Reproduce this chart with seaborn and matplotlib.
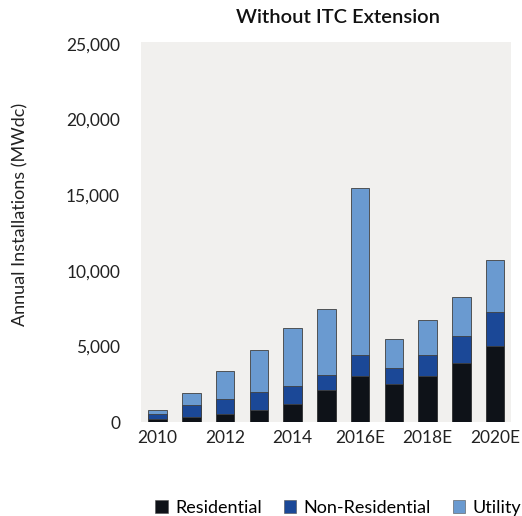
import matplotlib.pyplot as plt
import matplotlib.ticker as mticker
from matplotlib.patches import Patch
import numpy as np
import pandas as pd
import seaborn as sns

# Annual installations (MWdc)
years = ['2010', '2011', '2012', '2013', '2014', '2015',
         '2016E', '2017E', '2018E', '2019E', '2020E']
residential = [220, 330, 510, 815, 1210, 2140, 3020, 2535, 3020, 3900, 5000]
non_residential = [290, 815, 1035, 1170, 1150, 950, 1390, 1060, 1390, 1765, 2275]
utility = [260, 770, 1830, 2800, 3875, 4360, 11070, 1920, 2310, 2600, 3460]

series = ['Residential', 'Non-Residential', 'Utility']
colors = ['#0e1218', '#1b4897', '#6a9ad0']

df = pd.DataFrame({'year': years, 'Residential': residential,
                   'Non-Residential': non_residential, 'Utility': utility})
# cumulative tops so the bars can be layered
df['top_res'] = df['Residential']
df['top_nonres'] = df['top_res'] + df['Non-Residential']
df['top_util'] = df['top_nonres'] + df['Utility']

plt.rcParams['font.family'] = ['Lato', 'DejaVu Sans']

fig = plt.figure(figsize=(5.22, 5.16), dpi=100)
ax = fig.add_axes([0.270, 0.182, 0.709, 0.737])
ax.set_facecolor('#f1f0ee')

# draw tallest first, then overlay lower segments
for col, c in zip(['top_util', 'top_nonres', 'top_res'], colors[::-1]):
    sns.barplot(data=df, x='year', y=col, color=c, saturation=1, width=0.55,
                edgecolor='#404040', linewidth=0.6, ax=ax)

ax.set_xlim(-0.49, 10.47)
ax.set_ylim(0, 25130)
ax.set_yticks(range(0, 25001, 5000))
ax.yaxis.set_major_formatter(mticker.StrMethodFormatter('{x:,.0f}'))
ax.set_xticks(range(0, len(years), 2))
ax.set_xticklabels(years[::2])
ax.tick_params(axis='both', length=0, labelsize=12.5, colors='#222222')
ax.tick_params(axis='y', pad=15)
ax.tick_params(axis='x', pad=6)
for s in ax.spines.values():
    s.set_visible(False)

ax.set_xlabel('')
ax.set_ylabel('Annual Installations (MWdc)', fontsize=13, color='#222222')
ax.yaxis.set_label_coords(-0.305, 0.545)
fig.text(0.647, 0.967, 'Without ITC Extension', ha='center', va='center',
         fontsize=14.5, fontweight='semibold', color='#111111')

handles = [Patch(facecolor=c, edgecolor='#505050', linewidth=0.4) for c in colors]
fig.legend(handles, series, loc='center', bbox_to_anchor=(0.648, 0.016), ncol=3,
           frameon=False, fontsize=13, handlelength=0.7, handleheight=0.7,
           handletextpad=0.4, columnspacing=1.2)

fig.savefig('out.png', dpi=100)
